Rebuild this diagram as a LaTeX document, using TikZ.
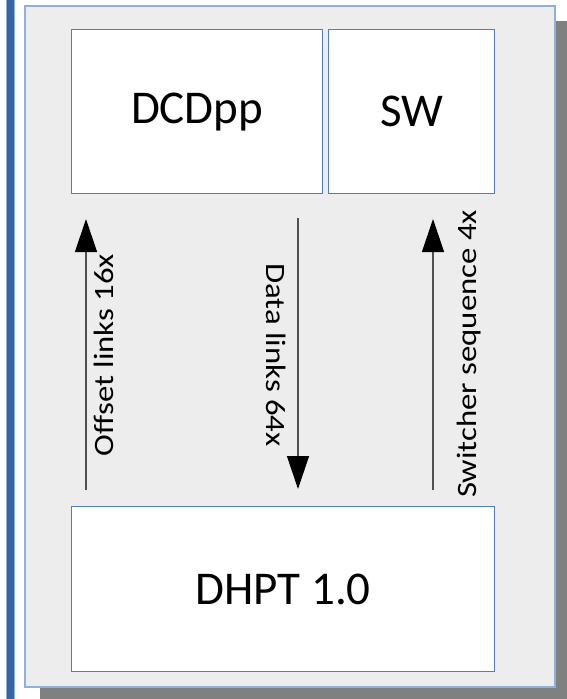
\documentclass[tikz,border=0pt]{standalone}
\usepackage{fontspec}
\setmainfont{Carlito}
\usetikzlibrary{arrows.meta}
\definecolor{panelfill}{HTML}{EDEDED}
\definecolor{panelline}{HTML}{8FB0DC}
\definecolor{boxline}{HTML}{4F7FBF}
\definecolor{barblue}{HTML}{3465A4}
\definecolor{shadowgray}{HTML}{808080}
\definecolor{arrowline}{HTML}{505050}
\tikzset{
  blockbox/.style={draw=boxline, line width=1.3pt, fill=white, inner sep=0pt,
    font=\fontsize{47}{56}\selectfont, anchor=north west},
  linkarrow/.style={draw=arrowline, line width=1.3pt,
    -{Triangle[width=22pt,length=33pt,fill=black,color=black]}},
  linklabel/.style={font=\fontsize{28}{34}\selectfont, anchor=base, inner sep=0pt}
}
\begin{document}
\begin{tikzpicture}[x=1pt,y=-1pt]
\useasboundingbox (0,0) rectangle (567,699);
% left blue bar
\fill[panelline] (6,0) rectangle (15,699);
\fill[barblue] (7,0) rectangle (14,699);
% shadow
\fill[shadowgray] (40,21) rectangle (567,699);
% panel
\draw[panelline, line width=1.3pt, fill=panelfill] (25,6) rectangle (555,687);
% boxes
\node[blockbox, minimum width=251pt, minimum height=164pt] (dcd) at (71,29) {DCDpp};
\node[blockbox, minimum width=166pt, minimum height=164pt] (sw) at (328,29) {SW};
\node[blockbox, minimum width=423pt, minimum height=165pt] (dhpt) at (71,506) {DHPT 1.0};
% arrow ends
\coordinate (o1) at (86,490);
\coordinate (o2) at (86,219);
\coordinate (d1) at (298,218);
\coordinate (d2) at (298,489);
\coordinate (s1) at (433,490);
\coordinate (s2) at (433,219);
\draw[linkarrow] (o1) -- (o2);
\draw[linkarrow] (d1) -- (d2);
\draw[linkarrow] (s1) -- (s2);
% labels
\node[linklabel, rotate=90] (ol) at (113,355) {\scalebox{1.17}[1]{Offset links 16x}};
\node[linklabel, rotate=-90] (dl) at (266,355) {\scalebox{1.17}[1]{Data links 64x}};
\node[linklabel, rotate=90] (sl) at (476,354) {\scalebox{1.17}[1]{Switcher sequence 4x}};
\end{tikzpicture}
\end{document}
